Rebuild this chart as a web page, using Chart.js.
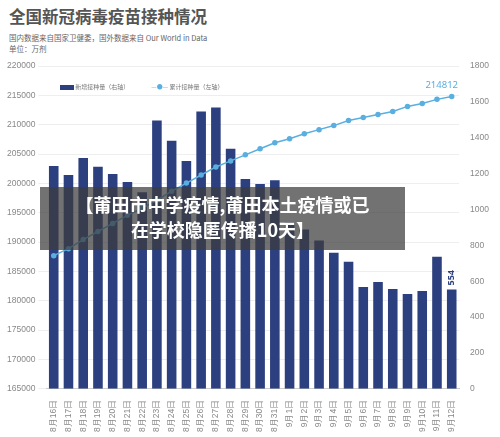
<!DOCTYPE html>
<html><head><meta charset="utf-8">
<script src="https://cdn.jsdelivr.net/npm/chart.js@4"></script>
<style>
body{margin:0;width:500px;height:437px;background:#fff;font-family:"Noto Sans CJK SC","Noto Sans",sans-serif;position:relative;overflow:hidden}
#t{position:absolute;left:9px;top:4px;font-size:16.5px;font-weight:bold;color:#555}
#s{position:absolute;left:9px;top:32px;font-size:7.5px;color:#666;line-height:11px}
#c{position:absolute;left:0;top:58px;width:500px;height:379px}
#lg{position:absolute;left:60px;top:82px;font-size:6px;color:#777;display:flex;gap:22px;align-items:center}
#ban{position:absolute;left:40px;top:187px;width:365px;height:63px;background:rgba(60,60,60,0.72);color:#fff;font-weight:bold;font-size:18px;text-align:center;line-height:25px;padding-top:5px;box-sizing:border-box}
</style></head><body>
<div id="t">全国新冠病毒疫苗接种情况</div>
<div id="s">国内数据来自国家卫健委，国外数据来自 Our World in Data<br>单位：万剂</div>
<div id="c"><canvas id="cv"></canvas></div>
<div id="lg"><span><span style="display:inline-block;width:14px;height:5px;background:#2c3f7e;vertical-align:middle"></span> 新增接种量（右轴）</span><span><span style="color:#5aafe0">—●—</span> 累计接种量（左轴）</span></div>
<div id="ban">【莆田市中学疫情,莆田本土疫情或已<br>在学校隐匿传播10天】</div>
<script>
const categories=["8月16日","8月17日","8月18日","8月19日","8月20日","8月21日","8月22日","8月23日","8月24日","8月25日","8月26日","8月27日","8月28日","8月29日","8月30日","8月31日","9月1日","9月2日","9月3日","9月4日","9月5日","9月6日","9月7日","9月8日","9月9日","9月10日","9月11日","9月12日"];
const dailyDoses=[1243,1193,1288,1238,1198,1153,1097,1496,1384,1271,1547,1569,1339,1170,1142,1164,928,889,827,759,709,568,596,557,529,546,737,554];
const cumulativeDoses=[187690,188890,190440,191810,193190,194560,195770,197140,198690,200060,201440,202810,203840,204880,205910,206940,207620,208480,209170,209860,210720,211230,211750,212270,213130,213640,214330,214812];
const labelsPlugin={id:'lbl',afterDatasetsDraw(ch){const c=ch.ctx;
 const lp=ch.getDatasetMeta(1).data.at(-1);c.save();c.fillStyle='#5aafe0';c.font='9.5px "Noto Sans",sans-serif';c.textAlign='center';c.fillText(String(cumulativeDoses.at(-1)),lp.x-10,lp.y-9);
 const bp=ch.getDatasetMeta(0).data.at(-1);c.fillStyle='#2c3f7e';c.font='bold 9px "Noto Sans",sans-serif';c.translate(bp.x,bp.y-4);c.rotate(-Math.PI/2);c.textAlign='left';c.textBaseline='middle';c.fillText(String(dailyDoses.at(-1)),0,0);c.restore();}};
const fmt=v=>String(v);
new Chart(document.getElementById('cv'),{data:{labels:categories,datasets:[
{type:'bar',data:dailyDoses,yAxisID:'y1',backgroundColor:'#2c3f7e',barPercentage:0.65,categoryPercentage:1,order:2},
{type:'line',data:cumulativeDoses,yAxisID:'y',borderColor:'#5aafe0',backgroundColor:'#5aafe0',borderWidth:1.5,pointRadius:2,tension:0,order:1}]},
options:{responsive:true,maintainAspectRatio:false,animation:false,layout:{padding:{top:6,right:8,left:4,bottom:2}},
plugins:{legend:{display:false},tooltip:{enabled:false}},
scales:{x:{grid:{display:false},border:{color:'#ccc'},ticks:{maxRotation:90,minRotation:90,color:'#888',font:{size:8.5},autoSkip:false}},
y:{position:'left',min:165000,max:220000,ticks:{stepSize:5000,color:'#888',font:{size:8.5},callback:fmt},grid:{color:'#eee'},border:{display:false}},
y1:{position:'right',min:0,max:1800,ticks:{stepSize:200,color:'#888',font:{size:8.5},callback:fmt},grid:{display:false},border:{display:false}}}},
plugins:[labelsPlugin]});
</script></body></html>
